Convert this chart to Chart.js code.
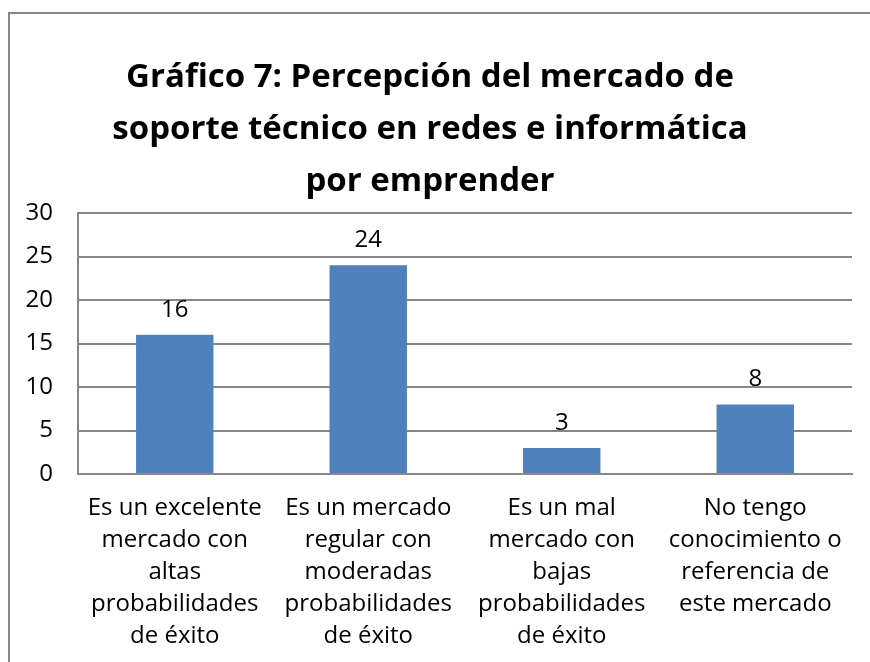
<!DOCTYPE html>
<html lang="es">
<head>
<meta charset="utf-8">
<title>Gráfico 7</title>
<script src="https://cdn.jsdelivr.net/npm/chart.js@4.4.1/dist/chart.umd.min.js"></script>
<style>
    html, body { margin: 0; padding: 0; background: #fff; overflow: hidden; }
    #marco { position: absolute; left: 8px; top: 12px; width: 900px; height: 700px;
             border: 2px solid #878787; box-sizing: border-box; }
    #caja { position: absolute; left: 0; top: 0; width: 870px; height: 662px; }
</style>
</head>
<body>
<div id="marco"></div>
<div id="caja"><canvas id="grafico"></canvas></div>
<script>
/* ==========================================================================
   GRÁFICO 7 · percepción del mercado de soporte técnico
   ========================================================================== */
var TITULO = [
    'Gráfico 7: Percepción del mercado de',
    'soporte técnico en redes e informática',
    'por emprender'
];
var CATEGORIAS = [
    ['Es un excelente', 'mercado con', 'altas', 'probabilidades', 'de éxito'],
    ['Es un mercado', 'regular con', 'moderadas', 'probabilidades', 'de éxito'],
    ['Es un mal', 'mercado con', 'bajas', 'probabilidades', 'de éxito'],
    ['No tengo', 'conocimiento o', 'referencia de', 'este mercado']
];
var RESPUESTAS = [16, 24, 3, 8];
var EJE_Y = { min: 0, max: 30, paso: 5 };

(function () {
    var FUENTE = '"Open Sans", "DejaVu Sans", sans-serif';
    var GRIS = '#878787';

    // etiquetas de valor sobre cada barra
    var etiquetas = {
        id: 'etiquetas',
        afterDatasetsDraw: function (chart) {
            var ctx = chart.ctx;
            var meta = chart.getDatasetMeta(0);
            ctx.save();
            ctx.font = '24px ' + FUENTE;
            ctx.fillStyle = '#000';
            ctx.textAlign = 'center';
            ctx.textBaseline = 'middle';
            meta.data.forEach(function (bar, i) {
                ctx.fillText(String(RESPUESTAS[i]), bar.x, bar.y - 25);
            });
            ctx.restore();
        }
    };

    new Chart(document.getElementById('grafico'), {
        type: 'bar',
        data: {
            labels: CATEGORIAS,
            datasets: [{
                data: RESPUESTAS,
                backgroundColor: '#4f81bd',
                borderWidth: 0,
                barPercentage: 0.4,
                categoryPercentage: 1
            }]
        },
        options: {
            responsive: true,
            maintainAspectRatio: false,
            animation: false,
            layout: { padding: { left: 8, right: 18, top: 0, bottom: 0 } },
            plugins: {
                legend: { display: false },
                tooltip: { enabled: false },
                title: {
                    display: true,
                    text: TITULO,
                    color: '#000',
                    font: { family: FUENTE, size: 33, weight: 'bold', lineHeight: '52px' },
                    padding: { top: 52, bottom: 5 }
                }
            },
            scales: {
                x: {
                    grid: { display: false, drawTicks: false },
                    border: { display: true, color: GRIS, width: 2 },
                    ticks: {
                        color: '#000',
                        padding: 18,
                        maxRotation: 0,
                        autoSkip: false,
                        font: { family: FUENTE, size: 24, lineHeight: '32px' }
                    },
                    afterFit: function (s) { s.height = 188; }
                },
                y: {
                    min: EJE_Y.min,
                    max: EJE_Y.max,
                    grid: { color: GRIS, lineWidth: 2, drawTicks: false },
                    border: { display: true, color: GRIS, width: 2 },
                    ticks: {
                        stepSize: EJE_Y.paso,
                        color: '#000',
                        padding: 25,
                        font: { family: FUENTE, size: 24 }
                    },
                    afterFit: function (s) { s.width = 70; }
                }
            }
        },
        plugins: [etiquetas]
    });
})();
</script>
</body>
</html>
